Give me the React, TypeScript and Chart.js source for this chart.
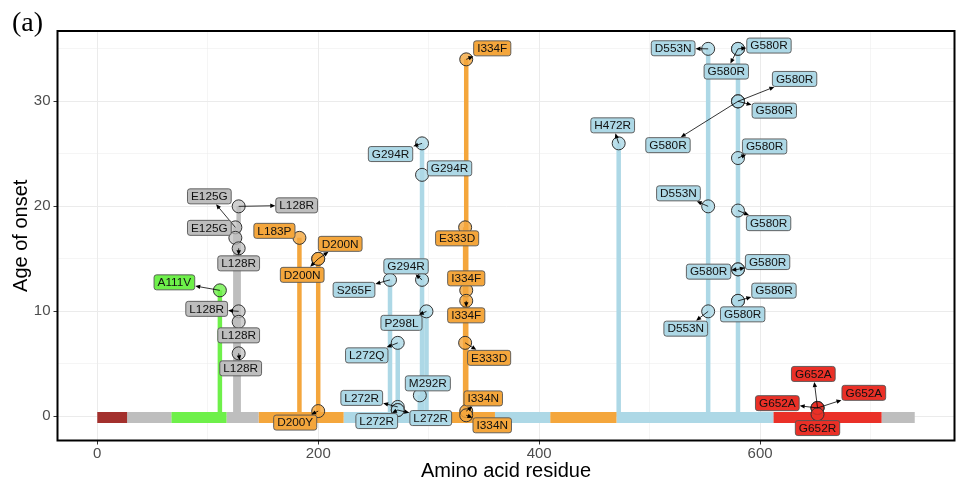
import React, { useEffect, useRef } from 'react';
import { Chart, registerables } from 'chart.js';

Chart.register(...registerables);

// ---------- DATA ----------
const domainStarts = [0, 27, 67, 117, 146, 223, 320, 360, 410, 470, 612, 710];
const domainEnds = [27, 67, 117, 146, 223, 320, 360, 410, 470, 612, 710, 740];
const domainTypes = ['brown', 'gray', 'green', 'gray', 'orange', 'blue', 'orange', 'blue', 'orange', 'blue', 'red', 'gray'];

const mutationNames = [
  'A111V', 'E125G', 'E125G', 'L128R', 'L128R', 'L128R', 'L128R', 'L128R',
  'L183P', 'D200N', 'D200N', 'D200Y',
  'S265F', 'L272Q', 'L272R', 'L272R', 'L272R', 'M292R', 'G294R', 'G294R', 'G294R', 'P298L',
  'E333D', 'E333D', 'I334F', 'I334F', 'I334F', 'I334N', 'I334N',
  'H472R', 'D553N', 'D553N', 'D553N',
  'G580R', 'G580R', 'G580R', 'G580R', 'G580R', 'G580R', 'G580R', 'G580R', 'G580R', 'G580R', 'G580R',
  'G652A', 'G652A', 'G652A', 'G652R',
];
const mutationResidues = [
  111, 125, 125, 128, 128, 128, 128, 128,
  183, 200, 200, 200,
  265, 272, 272, 272, 272, 292, 294, 294, 294, 298,
  333, 333, 334, 334, 334, 334, 334,
  472, 553, 553, 553,
  580, 580, 580, 580, 580, 580, 580, 580, 580, 580, 580,
  652, 652, 652, 652,
];
const mutationAges = [
  12, 18, 17, 20, 16, 10, 9, 6,
  17, 15, 15, 0.5,
  13, 7, 0.9, 0.6, 0.6, 2, 26, 23, 13, 10,
  18, 7, 34, 12, 11, 0.5, 0.1,
  26, 35, 20, 10,
  35, 35, 30, 30, 30, 24.6, 19.6, 14, 14, 11, 11,
  0.8, 0.8, 0.8, 0.2,
];

const xTickValues = [0, 100, 200, 300, 400, 500, 600, 700];
const yTickValues = [0, 5, 10, 15, 20, 25, 30, 35];

// ---------- LAYOUT / STYLE ----------
// label offsets from their point, in pixels (repel layout)
const labelDx = [
  -45.5, -26, -26, 58, 0, -32, 0, 2,
  -25, 22, -16, -23,
  -36, -31, -36, -21, 33, 8, -31.5, 27.5, -16, -25,
  -8, 24, 26, 0, 0, 17, 26,
  -6, -35, -29.7, -22.4,
  31, -11.7, 56.6, 36.3, -70, 26.6, 30.6, -29.4, 29.6, 36, 4.7,
  -4.2, 46.3, -40.2, 0,
];
const labelDy = [
  -8, -31, -10, -1, 15, -2.5, 13.5, 15,
  -7, -15, 16, 11.5,
  10, 12.5, -9, 11, 8, -12, 10.7, -6.5, -13.5, 11.5,
  11, 15, -11, -12, 14.5, -12.7, 10,
  -18, -0.6, -13, 17.3,
  -3.3, 22.7, -22.4, 9.3, 43.8, -11.6, 12.6, 2.3, -7.3, -10.2, 13.5,
  -34, -15.1, -4.8, 13.8,
];

const COLORS: Record<string, string> = {
  brown: '#A3302D',
  gray: '#BEBEBE',
  green: '#6EF04A',
  orange: '#F4A63C',
  blue: '#ADD8E6',
  red: '#EA3027',
};
const POINT_FILL: Record<string, string> = {
  brown: 'rgba(163,48,45,0.75)',
  gray: 'rgba(190,190,190,0.72)',
  green: 'rgba(110,240,74,0.8)',
  orange: 'rgba(244,166,60,0.8)',
  blue: 'rgba(173,216,230,0.8)',
  red: 'rgba(234,48,39,0.8)',
};
const FONT = "'Liberation Sans', Arial, Helvetica, sans-serif";
const DOMAIN_BAR_Y = -0.1;

function domainOf(res: number): string {
  for (let i = 0; i < domainStarts.length; i++) {
    if (res >= domainStarts[i] && res < domainEnds[i]) return domainTypes[i];
  }
  return 'gray';
}

const labelPlugin = {
  id: 'mutLabels',
  afterDatasetsDraw(chart: any) {
    const { ctx, scales, chartArea } = chart;
    const xs = scales.x;
    const ys = scales.y;
    ctx.save();
    ctx.font = `11.8px ${FONT}`;
    const items = mutationNames.map((name, i) => {
      const px = xs.getPixelForValue(mutationResidues[i]);
      const py = ys.getPixelForValue(mutationAges[i]);
      const cx = px + labelDx[i];
      const cy = py + labelDy[i];
      const w = ctx.measureText(name).width + 7;
      const h = 15;
      return { name, px, py, cx, cy, w, h, color: COLORS[domainOf(mutationResidues[i])] };
    });
    // arrows
    ctx.strokeStyle = '#000';
    ctx.fillStyle = '#000';
    ctx.lineWidth = 0.8;
    for (const it of items) {
      const vx = it.cx - it.px;
      const vy = it.cy - it.py;
      const hw = it.w / 2 + 0.5;
      const hh = it.h / 2 + 0.5;
      const tx = vx === 0 ? Infinity : hw / Math.abs(vx);
      const ty = vy === 0 ? Infinity : hh / Math.abs(vy);
      const t = Math.min(tx, ty);
      if (t >= 1) continue;
      const ex = it.cx - vx * t;
      const ey = it.cy - vy * t;
      const len = Math.hypot(ex - it.px, ey - it.py);
      if (len < 6) continue;
      const ux = (ex - it.px) / len;
      const uy = (ey - it.py) / len;
      ctx.beginPath();
      ctx.moveTo(it.px, it.py);
      ctx.lineTo(ex - ux * 3, ey - uy * 3);
      ctx.stroke();
      const al = 5, aw = 2.2;
      ctx.beginPath();
      ctx.moveTo(ex, ey);
      ctx.lineTo(ex - ux * al - uy * aw, ey - uy * al + ux * aw);
      ctx.lineTo(ex - ux * al + uy * aw, ey - uy * al - ux * aw);
      ctx.closePath();
      ctx.fill();
    }
    // boxes
    ctx.textAlign = 'center';
    ctx.textBaseline = 'middle';
    for (const it of items) {
      ctx.beginPath();
      ctx.roundRect(it.cx - it.w / 2, it.cy - it.h / 2, it.w, it.h, 2.5);
      ctx.fillStyle = it.color;
      ctx.fill();
      ctx.lineWidth = 0.9;
      ctx.strokeStyle = '#555555';
      ctx.stroke();
      ctx.fillStyle = '#111111';
      ctx.fillText(it.name, it.cx, it.cy + 0.5);
    }
    // panel border
    ctx.lineWidth = 2;
    ctx.strokeStyle = '#000';
    ctx.strokeRect(chartArea.left, chartArea.top, chartArea.right - chartArea.left, chartArea.bottom - chartArea.top);
    // panel tag
    ctx.font = `28px 'Liberation Serif', 'Times New Roman', serif`;
    ctx.textAlign = 'left';
    ctx.textBaseline = 'alphabetic';
    ctx.fillStyle = '#000';
    ctx.fillText('(a)', 12, 31);
    ctx.restore();
  },
};

export default function App() {
  const ref = useRef<HTMLCanvasElement>(null);
  useEffect(() => {
    document.body.style.margin = '0';
    const canvas = ref.current;
    if (!canvas) return;

    const datasets: any[] = [];

    // points
    const domainKeys = Array.from(new Set(mutationResidues.map(domainOf)));
    domainKeys.forEach((key) => {
      const pts = mutationResidues
        .map((r, i) => ({ x: r, y: mutationAges[i], d: domainOf(r) }))
        .filter((p) => p.d === key)
        .map((p) => ({ x: p.x, y: p.y }));
      datasets.push({
        data: pts,
        order: 0,
        pointRadius: 6.5,
        pointBackgroundColor: POINT_FILL[key],
        pointBorderColor: '#333333',
        pointBorderWidth: 1,
        showLine: false,
      });
    });

    // domain bar
    domainStarts.forEach((s, i) => {
      datasets.push({
        data: [
          { x: s, y: DOMAIN_BAR_Y },
          { x: domainEnds[i], y: DOMAIN_BAR_Y },
        ],
        order: 1,
        showLine: true,
        borderColor: COLORS[domainTypes[i]],
        borderWidth: 11,
        borderCapStyle: 'butt',
        pointRadius: 0,
      });
    });

    // stalks
    const stalkMax = new Map<number, number>();
    mutationResidues.forEach((r, i) => {
      stalkMax.set(r, Math.max(stalkMax.get(r) ?? 0, mutationAges[i]));
    });
    stalkMax.forEach((maxAge, r) => {
      datasets.push({
        data: [
          { x: r, y: 0 },
          { x: r, y: maxAge },
        ],
        order: 2,
        showLine: true,
        borderColor: COLORS[domainOf(r)],
        borderWidth: 4.5,
        borderCapStyle: 'butt',
        pointRadius: 0,
      });
    });

    Chart.defaults.font.family = FONT;

    const chart = new Chart(canvas, {
      type: 'scatter',
      data: { datasets },
      options: {
        animation: false,
        responsive: false,
        devicePixelRatio: 1,
        layout: { padding: { top: 31, right: 3, left: 0, bottom: 0 } },
        plugins: { legend: { display: false }, tooltip: { enabled: false } },
        scales: {
          x: {
            type: 'linear',
            min: -36,
            max: 776,
            afterBuildTicks: (s: any) => {
              s.ticks = xTickValues.map((v) => ({ value: v }));
            },
            afterFit: (s: any) => {
              s.height = 42.5;
              s.paddingLeft = 0;
              s.paddingRight = 0;
            },
            ticks: {
              callback: (v: any) => (Number(v) % 200 === 0 ? String(v) : ''),
              color: '#4D4D4D',
              font: { size: 15 },
              padding: 0,
              maxRotation: 0,
              autoSkip: false,
            },
            grid: {
              color: '#EBEBEB',
              lineWidth: (c: any) => (c.tick && c.tick.value % 200 === 0 ? 1 : 0.5),
              tickColor: (c: any) => (c.tick && c.tick.value % 200 === 0 ? '#333333' : 'rgba(0,0,0,0)'),
              tickLength: 4,
              tickWidth: 1,
            },
            border: { display: false },
            title: {
              display: true,
              text: 'Amino acid residue',
              color: '#000',
              font: { size: 20 },
              padding: { top: 0, bottom: 0 },
            },
          },
          y: {
            type: 'linear',
            min: -2.3,
            max: 36.7,
            afterBuildTicks: (s: any) => {
              s.ticks = yTickValues.map((v) => ({ value: v }));
            },
            afterFit: (s: any) => {
              s.width = 57.5;
              s.paddingTop = 0;
              s.paddingBottom = 0;
            },
            ticks: {
              callback: (v: any) => (Number(v) % 10 === 0 ? String(v) : ''),
              color: '#4D4D4D',
              font: { size: 15 },
              padding: 3,
              autoSkip: false,
            },
            grid: {
              color: '#EBEBEB',
              lineWidth: (c: any) => (c.tick && c.tick.value % 10 === 0 ? 1 : 0.5),
              tickColor: (c: any) => (c.tick && c.tick.value % 10 === 0 ? '#333333' : 'rgba(0,0,0,0)'),
              tickLength: 4,
              tickWidth: 1,
            },
            border: { display: false },
            title: {
              display: true,
              text: 'Age of onset',
              color: '#000',
              font: { size: 20 },
              padding: { top: 9, bottom: 0 },
            },
          },
        },
      },
      plugins: [labelPlugin],
    } as any);

    return () => chart.destroy();
  }, []);

  return (
    <div style={{ width: 962, height: 483, position: 'relative' }}>
      <canvas ref={ref} width={962} height={483} style={{ width: 962, height: 483, display: 'block' }} />
    </div>
  );
}
